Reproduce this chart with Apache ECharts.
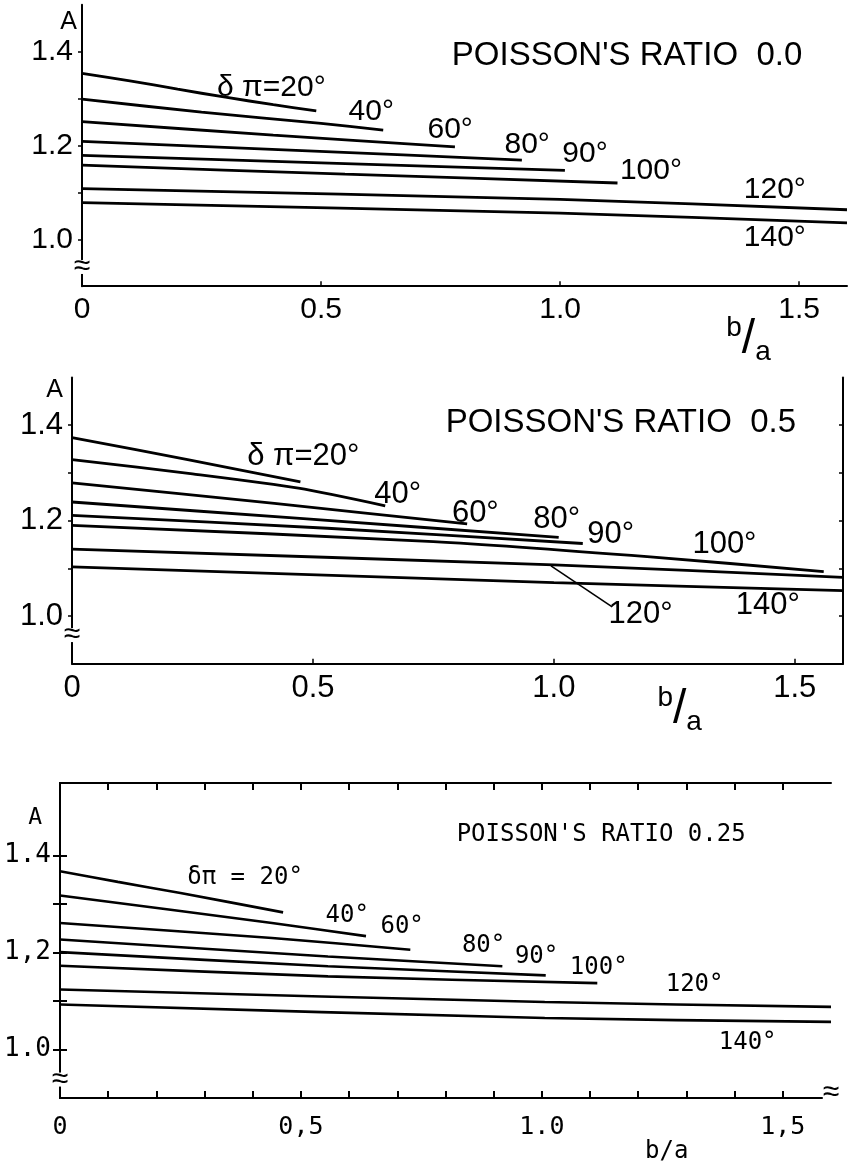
<!DOCTYPE html>
<html><head><meta charset="utf-8">
<script src="https://cdn.jsdelivr.net/npm/echarts@6/dist/echarts.min.js"></script>
<style>html,body{margin:0;padding:0;background:#fff}#c{width:850px;height:1165px}</style>
</head><body><div id="c"></div>
<script>
// ---------- DATA ----------
const angleNames = ['20°','40°','60°','80°','90°','100°','120°','140°'];

// Poisson's ratio 0.0  — [b/a, A]
const curvesNu00 = [
  [[0,1.354],[0.1,1.338],[0.2,1.320],[0.3,1.303],[0.4,1.287],[0.49,1.274]],
  [[0,1.299],[0.25,1.271],[0.5,1.247],[0.63,1.233]],
  [[0,1.251],[0.4,1.222],[0.78,1.197]],
  [[0,1.209],[0.46,1.189],[0.92,1.169]],
  [[0,1.179],[0.5,1.163],[1.01,1.147]],
  [[0,1.158],[0.55,1.139],[1.12,1.120]],
  [[0,1.108],[1.0,1.085],[1.6,1.063]],
  [[0,1.078],[1.0,1.056],[1.6,1.035]]
];
// Poisson's ratio 0.5
const curvesNu05 = [
  [[0,1.374],[0.24,1.328],[0.474,1.281]],
  [[0,1.328],[0.25,1.298],[0.47,1.268],[0.65,1.231]],
  [[0,1.279],[0.42,1.236],[0.82,1.193]],
  [[0,1.239],[0.48,1.204],[1.01,1.165]],
  [[0,1.211],[0.53,1.184],[1.06,1.152]],
  [[0,1.190],[0.75,1.156],[1.2,1.124],[1.56,1.093]],
  [[0,1.140],[1.0,1.107],[1.6,1.081]],
  [[0,1.103],[1.0,1.070],[1.6,1.053]]
];
// Poisson's ratio 0.25
const curvesNu025 = [
  [[0,1.368],[0.12,1.346],[0.25,1.323],[0.463,1.283]],
  [[0,1.318],[0.44,1.261],[0.635,1.234]],
  [[0,1.261],[0.44,1.230],[0.727,1.206]],
  [[0,1.227],[0.556,1.192],[0.918,1.172]],
  [[0,1.201],[0.556,1.172],[1.008,1.153]],
  [[0,1.173],[0.556,1.151],[1.115,1.137]],
  [[0,1.124],[1.006,1.098],[1.6,1.088]],
  [[0,1.093],[1.006,1.065],[1.6,1.057]]
];

// curve labels (text + anchor in data units)
const labelsNu00 = ['δ π=20°','40°','60°','80°','90°','100°','120°','140°'];
const anchorsNu00 = [[0.396,1.324],[0.605,1.272],[0.770,1.234],[0.931,1.201],[1.052,1.183],[1.19,1.147],[1.449,1.105],[1.449,1.004]];
const labelsNu05 = ['δ π=20°','40°','60°','80°','90°','100°','120°','140°'];
const anchorsNu05 = [[0.480,1.334],[0.676,1.255],[0.837,1.216],[1.006,1.202],[1.118,1.170],[1.354,1.151],[1.180,1.004],[1.444,1.023]];
const leaderNu05 = [[0.994,1.105],[1.121,1.019]];
const labelsNu025 = ['δπ = 20°','40°','60°','80°','90°','100°','120°','140°'];
const anchorsNu025 = [[0.384,1.354],[0.596,1.277],[0.71,1.253],[0.879,1.215],[0.989,1.191],[1.118,1.168],[1.317,1.133],[1.427,1.014]];

const titles = ["POISSON'S RATIO  0.0", "POISSON'S RATIO  0.5", "POISSON'S RATIO 0.25"];
const titleAnchors = [[1.14,1.391],[1.139,1.404],[1.123,1.443]];

const xTickValues = [0, 0.5, 1.0, 1.5];
const xTickLabelsA = ['0','0.5','1.0','1.5'];
const xTickLabelsC = ['0','0,5','1.0','1,5'];
const yTickValues = [1.0, 1.2, 1.4];
const yTickLabelsA = ['1.0','1.2','1.4'];
const yTickLabelsC = ['1.0','1,2','1.4'];
const yMinorTicks = [1.0, 1.1, 1.2, 1.3, 1.4];
const xTicksC = [0.1,0.2,0.3,0.4,0.5,0.6,0.7,0.8,0.9,1.0,1.1,1.2,1.3,1.4,1.5];

// ---------- STYLE ----------
const SANS = '"Liberation Sans",Arial,sans-serif';
const MONO = '"DejaVu Sans Mono","Liberation Mono",monospace';
const BLACK = '#000';

function fmt(values, labels) {
  return v => { const i = values.findIndex(t => Math.abs(t - v) < 1e-6); return i >= 0 ? labels[i] : ''; };
}

function lineSeries(curves, xi, yi, w) {
  return curves.map((c, i) => ({
    type: 'line', name: angleNames[i], xAxisIndex: xi, yAxisIndex: yi,
    data: c, smooth: 0.25, showSymbol: false, symbol: 'none',
    lineStyle: { color: BLACK, width: w }, z: 5, silent: true
  }));
}
function textSeries(texts, anchors, xi, yi, font, size, extra) {
  return {
    type: 'scatter', xAxisIndex: xi, yAxisIndex: yi, clip: false, silent: true,
    symbol: 'circle', symbolSize: 0.01, itemStyle: { color: '#fff', opacity: 0 }, z: 10,
    data: texts.map((t, i) => ({ name: t, value: anchors[i] })),
    label: Object.assign({ show: true, position: [0, 0], align: 'center', verticalAlign: 'middle',
      formatter: '{b}', color: BLACK, opacity: 1, textBorderWidth: 0,
      fontFamily: font, fontSize: size }, extra || {}),
    labelLayout: null
  };
}
const breakLabel = { backgroundColor: '#fff', lineHeight: 14, fontSize: 30, fontFamily: SANS };
const fracRich = {
  b: { fontFamily: SANS, fontSize: 28, color: BLACK, lineHeight: 52, verticalAlign: 'top' },
  s: { fontFamily: SANS, fontSize: 48, color: BLACK, lineHeight: 52, verticalAlign: 'middle' },
  a: { fontFamily: SANS, fontSize: 28, color: BLACK, lineHeight: 52, verticalAlign: 'bottom' }
};

const axLine = { show: true, lineStyle: { color: BLACK, width: 2 } };

const option = {
  animation: false,
  backgroundColor: '#fff',
  grid: [
    { left: 82, top: 4.8, width: 768, height: 281.4 },
    { left: 72, top: 377.5, width: 771, height: 286.2 },
    { left: 60, top: 783, width: 771, height: 315 }
  ],
  xAxis: [
    { gridIndex: 0, type: 'value', min: 0, max: 1.6, interval: 0.5, axisLine: axLine,
      axisTick: { inside: true, length: 5, customValues: [0.5, 1.0, 1.5], lineStyle: { color: BLACK, width: 1.5 } },
      axisLabel: { formatter: fmt(xTickValues, xTickLabelsA), color: BLACK, fontFamily: SANS, fontSize: 30, margin: 9 },
      splitLine: { show: false } },
    { gridIndex: 1, type: 'value', min: 0, max: 1.6, interval: 0.5, axisLine: axLine,
      axisTick: { inside: true, length: 5, customValues: [0.5, 1.0, 1.5], lineStyle: { color: BLACK, width: 1.5 } },
      axisLabel: { formatter: fmt(xTickValues, xTickLabelsA), color: BLACK, fontFamily: SANS, fontSize: 31, margin: 9 },
      splitLine: { show: false } },
    { gridIndex: 2, type: 'value', min: 0, max: 1.6, interval: 0.1, axisLine: axLine,
      axisTick: { inside: true, length: 7, customValues: xTicksC, lineStyle: { color: BLACK, width: 2 } },
      axisLabel: { formatter: fmt(xTickValues, xTickLabelsC), color: BLACK, fontFamily: MONO, fontSize: 25, margin: 17 },
      splitLine: { show: false } },
    { gridIndex: 2, type: 'value', position: 'top', min: 0, max: 1.6, interval: 0.1, axisLine: axLine,
      axisTick: { inside: true, length: 7, customValues: xTicksC, lineStyle: { color: BLACK, width: 2 } },
      axisLabel: { show: false }, splitLine: { show: false } }
  ],
  yAxis: [
    { gridIndex: 0, type: 'value', min: 0.9, max: 1.5, interval: 0.1, axisLine: axLine,
      axisTick: { inside: false, length: 4, customValues: yMinorTicks, lineStyle: { color: BLACK, width: 1.5 } },
      axisLabel: { formatter: fmt(yTickValues, yTickLabelsA), color: BLACK, fontFamily: SANS, fontSize: 30, margin: 9 },
      splitLine: { show: false },
      name: 'A', nameLocation: 'end', nameGap: -17,
      nameTextStyle: { fontFamily: SANS, fontSize: 25, color: BLACK, align: 'right', verticalAlign: 'middle', padding: [0, 5, 0, 0] } },
    { gridIndex: 1, type: 'value', min: 0.9, max: 1.5, interval: 0.1, axisLine: axLine,
      axisTick: { inside: false, length: 4, customValues: yMinorTicks, lineStyle: { color: BLACK, width: 1.5 } },
      axisLabel: { formatter: fmt(yTickValues, yTickLabelsA), color: BLACK, fontFamily: SANS, fontSize: 31, margin: 9 },
      splitLine: { show: false },
      name: 'A', nameLocation: 'end', nameGap: -13,
      nameTextStyle: { fontFamily: SANS, fontSize: 25, color: BLACK, align: 'right', verticalAlign: 'middle', padding: [0, 9, 0, 0] } },
    { gridIndex: 1, type: 'value', position: 'right', min: 0.9, max: 1.5, interval: 0.1, axisLine: axLine,
      axisTick: { inside: true, length: 4, customValues: yMinorTicks, lineStyle: { color: BLACK, width: 1.5 } },
      axisLabel: { show: false }, splitLine: { show: false } },
    { gridIndex: 2, type: 'value', min: 0.9, max: 1.55, interval: 0.1, axisLine: axLine,
      axisTick: { inside: true, length: 7, customValues: yMinorTicks, lineStyle: { color: BLACK, width: 2 } },
      axisLabel: { formatter: fmt(yTickValues, yTickLabelsC), color: BLACK, fontFamily: MONO, fontSize: 26, margin: 9 },
      splitLine: { show: false },
      name: 'A', nameLocation: 'end', nameGap: -35,
      nameTextStyle: { fontFamily: MONO, fontSize: 23, color: BLACK, align: 'right', verticalAlign: 'middle', padding: [0, 18, 0, 0] } },
    { gridIndex: 2, type: 'value', position: 'right', min: 0.9, max: 1.55, interval: 0.1, axisLine: axLine,
      axisTick: { inside: true, length: 7, customValues: yMinorTicks, lineStyle: { color: BLACK, width: 2 } },
      axisLabel: { show: false }, splitLine: { show: false } }
  ],
  series: [].concat(
    lineSeries(curvesNu00, 0, 0, 2.8),
    lineSeries(curvesNu05, 1, 1, 2.8),
    lineSeries(curvesNu025, 2, 3, 2.6),
    [{ type: 'line', xAxisIndex: 1, yAxisIndex: 1, data: leaderNu05, showSymbol: false, symbol: 'none',
       lineStyle: { color: BLACK, width: 1.6 }, silent: true, z: 5 }],
    [textSeries(labelsNu00, anchorsNu00, 0, 0, SANS, 30)],
    [textSeries(labelsNu05, anchorsNu05, 1, 1, SANS, 31)],
    [textSeries(labelsNu025, anchorsNu025, 2, 3, MONO, 24)],
    [textSeries([titles[0]], [titleAnchors[0]], 0, 0, SANS, 33)],
    [textSeries([titles[1]], [titleAnchors[1]], 1, 1, SANS, 33)],
    [textSeries([titles[2]], [titleAnchors[2]], 2, 3, MONO, 24)],
    // axis-break marks
    [textSeries(['≈'], [[0, 0.941]], 0, 0, SANS, 30, breakLabel)],
    [textSeries(['≈'], [[0, 0.96]], 1, 1, SANS, 30, breakLabel)],
    [textSeries(['≈'], [[0, 0.938]], 2, 3, SANS, 30, breakLabel)],
    [textSeries(['≈'], [[1.6, 0.91]], 2, 3, SANS, 30, breakLabel)],
    // b/a axis titles
    [textSeries(['{b|b}{s|/}{a|a}'], [[1.394, 0.785]], 0, 0, SANS, 28, { rich: fracRich })],
    [textSeries(['{b|b}{s|/}{a|a}'], [[1.261, 0.803]], 1, 1, SANS, 28, { rich: fracRich })],
    [textSeries(['b/a'], [[1.259, 0.789]], 2, 3, MONO, 24)]
  )
};

const chart = echarts.init(document.getElementById('c'), null, { renderer: 'canvas' });
chart.setOption(option);
</script>
</body></html>
